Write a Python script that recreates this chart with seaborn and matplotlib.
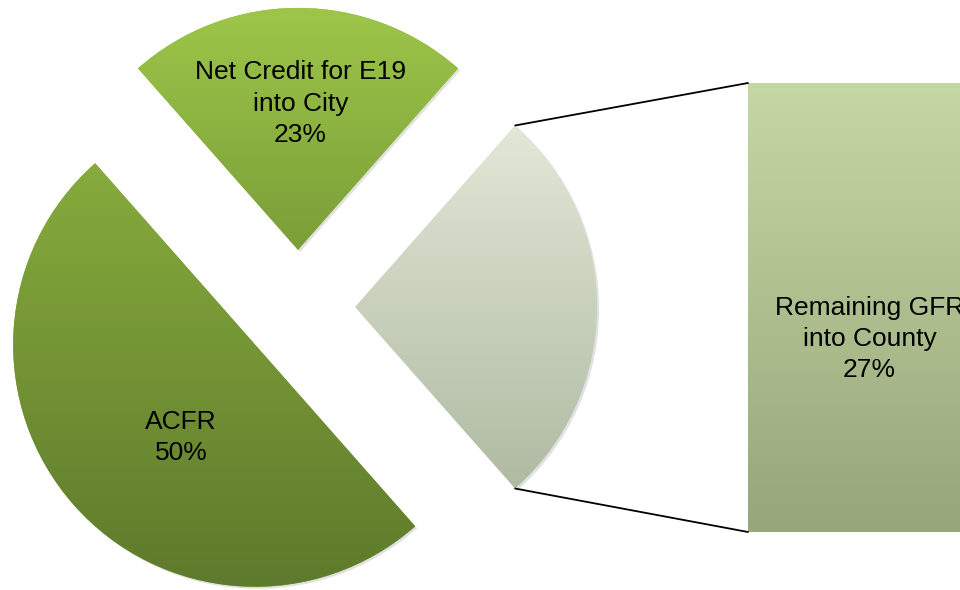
import numpy as np
import matplotlib
matplotlib.use("Agg")
import matplotlib.pyplot as plt
from matplotlib.colors import LinearSegmentedColormap
from matplotlib.patches import ConnectionPatch, Shadow
import seaborn as sns

# Data (pie slices, counter-clockwise from the right)
labels = ["Remaining GFR\ninto County", "Net Credit for E19\ninto City", "ACFR"]
shares = [27, 23, 50]
top_colors = ["#E1E8D7", "#9DC649", "#87AB3D"]
bottom_colors = ["#B0BAA2", "#7B9E38", "#5E7A2C"]

# Data (bar of pie)
bar_label = "Remaining GFR\ninto County"
bar_value = 27
bar_colors = ("#C5D8A3", "#97A67B")

sns.set_theme(style="white")
plt.rcParams["font.family"] = ["Liberation Sans", "DejaVu Sans"]

PX = 242          # pixels per pie radius
CX, CY = 298, 307  # pie centre in pixels (from top-left)
W, H = 960, 590


def gradient_fill(axis, patch, c_top, c_bottom):
    x0, y0, x1, y1 = patch.get_path().transformed(patch.get_patch_transform()).get_extents().extents
    cmap = LinearSegmentedColormap.from_list("grad", [c_bottom, c_top])
    grad = np.linspace(0, 1, 256).reshape(-1, 1)
    im = axis.imshow(grad, cmap=cmap, origin="lower", extent=[x0, x1, y0, y1],
                     aspect="auto", zorder=patch.get_zorder() + 0.1, interpolation="bilinear")
    im.set_clip_path(patch)


fig = plt.figure(figsize=(W / 100, H / 100), dpi=100)
ax = fig.add_axes([0, 0, 1, 1])

wedges, _ = ax.pie(shares, startangle=-shares[0] * 3.6 / 2, counterclock=True,
                   explode=[0.236] * len(shares), radius=1, colors=top_colors,
                   wedgeprops=dict(linewidth=0))

for w, ct, cb in zip(wedges, top_colors, bottom_colors):
    sh = Shadow(w, 0.006, -0.006, facecolor="#888888", edgecolor="none", alpha=0.25)
    sh.set_zorder(w.get_zorder() - 0.5)
    ax.add_patch(sh)
    gradient_fill(ax, w, ct, cb)

# labels inside the pie slices (distance from apex, angle offset)
label_pos = {1: (0.605, -1), 2: (0.49, 10)}
for i, (dist, off) in label_pos.items():
    w = wedges[i]
    mid = np.deg2rad((w.theta1 + w.theta2) / 2 + off)
    x = w.center[0] + dist * np.cos(mid)
    y = w.center[1] + dist * np.sin(mid)
    ax.text(x, y, f"{labels[i]}\n{shares[i]}%", ha="center", va="center",
            fontsize=19, color="black", zorder=5, linespacing=1.38)

ax.set_xlim(-CX / PX, (W - CX) / PX)
ax.set_ylim(-(H - CY) / PX, CY / PX)
ax.set_aspect("equal")
ax.axis("off")

# bar of pie
ax2 = fig.add_axes([748 / W, 58 / H, 238 / W, 449 / H])
sns.barplot(x=[bar_label], y=[bar_value], ax=ax2, width=1.0, color=bar_colors[0], linewidth=0)
ax2.set_xlim(-0.5, 0.5)
ax2.set_ylim(0, bar_value)
bar_patch = ax2.patches[0]
sh = Shadow(bar_patch, 0.004, -0.15, facecolor="#888888", edgecolor="none", alpha=0.25)
sh.set_zorder(bar_patch.get_zorder() - 0.5)
ax2.add_patch(sh)
gradient_fill(ax2, bar_patch, *bar_colors)
ax2.text(0.01, bar_value * 0.43, f"{bar_label}\n{bar_value}%", ha="center", va="center",
         fontsize=19, color="black", zorder=5, linespacing=1.38)
ax2.set_xlim(-0.5, 0.5)
ax2.set_ylim(0, bar_value)
ax2.axis("off")

# connector lines from the exploded slice to the bar
w = wedges[0]
for theta, yb in [(w.theta2, bar_patch.get_height()), (w.theta1, 0)]:
    t = np.deg2rad(theta)
    pa = (w.center[0] + w.r * np.cos(t), w.center[1] + w.r * np.sin(t))
    con = ConnectionPatch(xyA=pa, coordsA=ax.transData, xyB=(bar_patch.get_x(), yb),
                          coordsB=ax2.transData, color="black", lw=1.3)
    fig.add_artist(con)

fig.savefig("out.png", dpi=100)
